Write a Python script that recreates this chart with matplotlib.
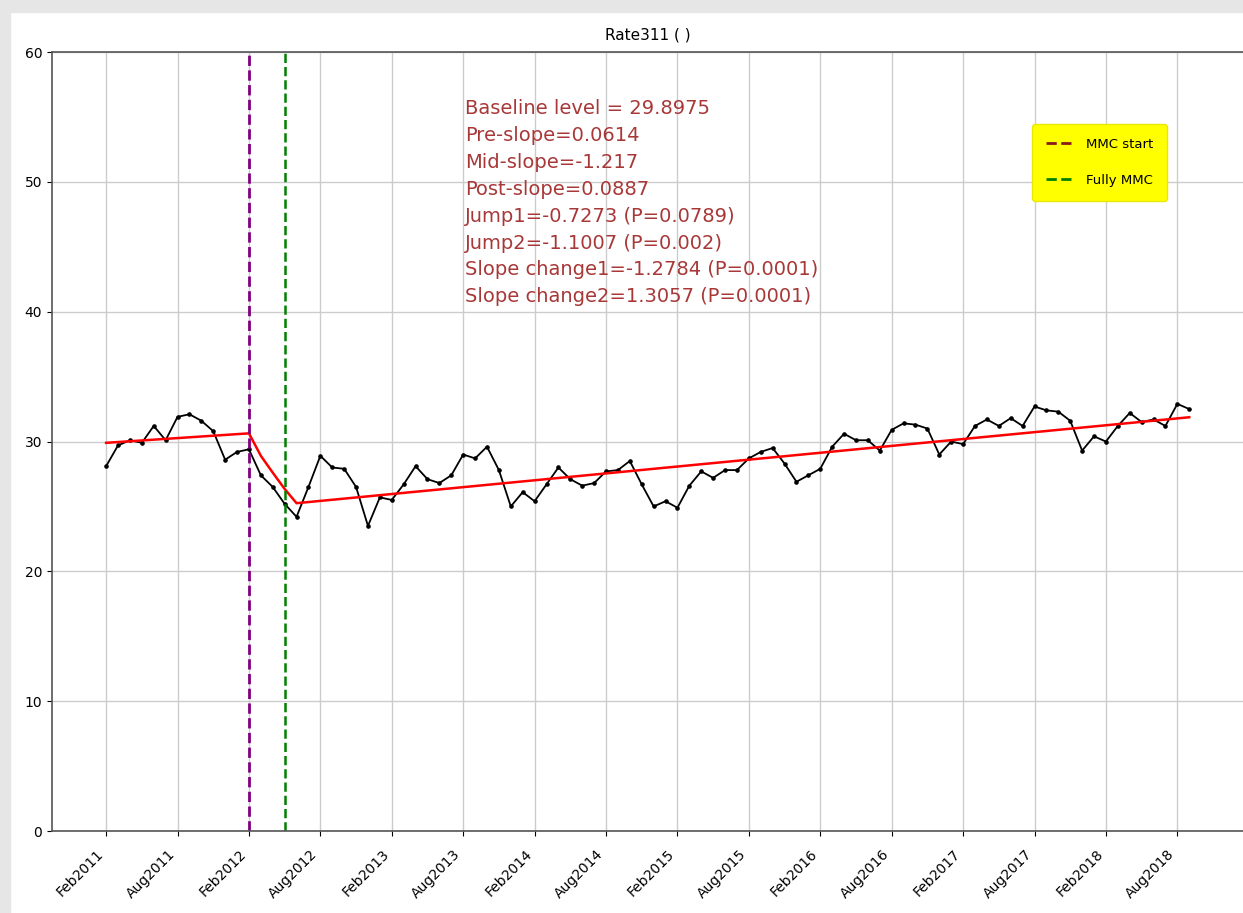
import matplotlib
matplotlib.use("Agg")
import matplotlib.pyplot as plt
from matplotlib.lines import Line2D
from matplotlib.patches import Rectangle
from matplotlib.transforms import ScaledTranslation

# monthly rate, Feb2011 (index 0) .. Sep2018 (index 91)
rate = [28.1, 29.7, 30.1, 29.9, 31.2, 30.1, 31.9, 32.1, 31.6, 30.8,
        28.6, 29.2, 29.4, 27.4, 26.5, 25.2, 24.2, 26.5, 28.9, 28.0,
        27.9, 26.5, 23.5, 25.7, 25.5, 26.7, 28.1, 27.1, 26.8, 27.4,
        29.0, 28.7, 29.6, 27.8, 25.0, 26.1, 25.4, 26.7, 28.0, 27.1,
        26.6, 26.8, 27.7, 27.8, 28.5, 26.7, 25.0, 25.4, 24.9, 26.6,
        27.7, 27.2, 27.8, 27.8, 28.7, 29.2, 29.5, 28.3, 26.9, 27.4,
        27.9, 29.6, 30.6, 30.1, 30.1, 29.3, 30.9, 31.4, 31.3, 31.0,
        29.0, 30.0, 29.8, 31.2, 31.7, 31.2, 31.8, 31.2, 32.7, 32.4,
        32.3, 31.6, 29.3, 30.4, 30.0, 31.2, 32.2, 31.5, 31.7, 31.2,
        32.9, 32.5]
months = list(range(len(rate)))

# vertices of the fitted segmented line
fit_x = [0, 12, 13, 14, 15, 16, 91]
fit_y = [29.90, 30.63, 28.9, 27.6, 26.35, 25.25, 31.87]

mmc_start = 12
fully_mmc = 15

tick_pos = list(range(0, 91, 6))
tick_labels = ["Feb2011", "Aug2011", "Feb2012", "Aug2012", "Feb2013", "Aug2013",
               "Feb2014", "Aug2014", "Feb2015", "Aug2015", "Feb2016", "Aug2016",
               "Feb2017", "Aug2017", "Feb2018", "Aug2018"]

stats = ["Baseline level = 29.8975",
         "Pre-slope=0.0614",
         "Mid-slope=-1.217",
         "Post-slope=0.0887",
         "Jump1=-0.7273 (P=0.0789)",
         "Jump2=-1.1007 (P=0.002)",
         "Slope change1=-1.2784 (P=0.0001)",
         "Slope change2=1.3057 (P=0.0001)"]

fig = plt.figure(figsize=(12.43, 9.13), dpi=100)
# screenshot frame
fig.patches.append(Rectangle((0, 0.987), 1, 0.013, transform=fig.transFigure,
                             color="#e6e6e6", zorder=0))
fig.patches.append(Rectangle((0, 0), 0.008, 1, transform=fig.transFigure,
                             color="#e6e6e6", zorder=0))

ax = fig.add_axes([0.0418, 0.0898, 0.9590, 0.8532])

ax.plot(months, rate, color="black", lw=1.3, marker="o", markersize=2.3)
ax.plot(fit_x, fit_y, color="red", lw=1.8)
ax.axvline(mmc_start, color="purple", ls="--", lw=2)
ax.axvline(fully_mmc, color="green", ls="--", lw=1.8)

ax.set_ylim(0, 60)
ax.set_xlim(-4.55, 95.6)
ax.set_xticks(tick_pos)
ax.set_xticklabels(tick_labels, rotation=45, ha="right", fontsize=10)
shift = ScaledTranslation(6 / 100, 0, fig.dpi_scale_trans)
for lab in ax.get_xticklabels():
    lab.set_transform(lab.get_transform() + shift)
ax.tick_params(axis="x", pad=8)
ax.tick_params(axis="y", labelsize=10)
ax.grid(True, color="#cccccc", lw=1)
ax.set_axisbelow(True)
for s in ax.spines.values():
    s.set_color("#555555")
    s.set_linewidth(1.2)
ax.set_title("Rate311 ( )", fontsize=11, pad=9)

ax.text(0.3466, 0.94, "\n".join(stats), transform=ax.transAxes,
        fontsize=14, color="#a83838", va="top", ha="left", linespacing=1.53)

handles = [Line2D([0], [0], color="#8b1a1a", ls="--", lw=2),
           Line2D([0], [0], color="green", ls="--", lw=2)]
leg = ax.legend(handles, ["MMC start", "Fully MMC"], loc="upper left",
                bbox_to_anchor=(0.817, 0.916), fontsize=9.5, facecolor="yellow",
                framealpha=1, edgecolor="#e8e800", handlelength=2.2,
                labelspacing=1.75, borderpad=1.05)

fig.savefig("out.png", dpi=100)
